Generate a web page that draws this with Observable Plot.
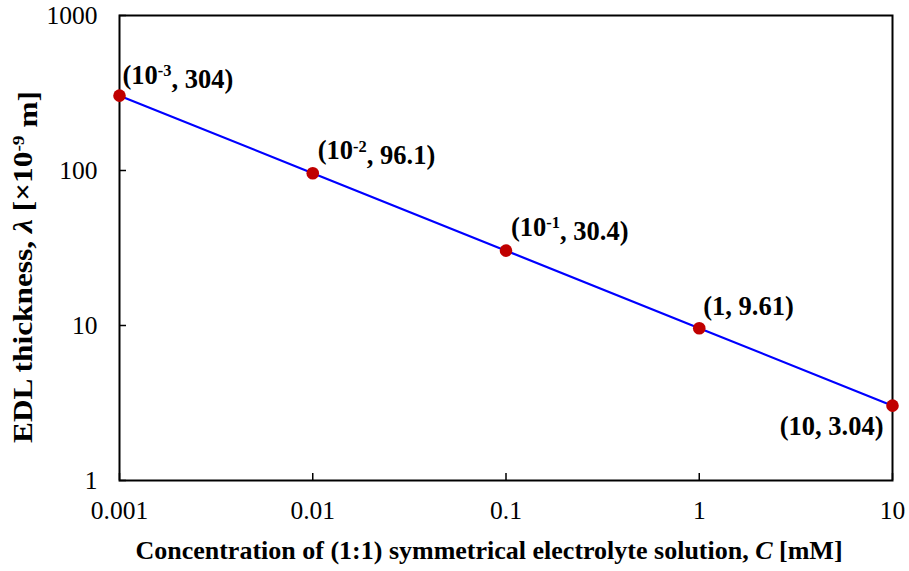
<!DOCTYPE html>
<html>
<head>
<meta charset="utf-8">
<script src="https://cdn.jsdelivr.net/npm/d3@7"></script>
<script src="https://cdn.jsdelivr.net/npm/@observablehq/plot@0.6"></script>
<style>
  html, body { margin: 0; padding: 0; background: #fff; }
  #chart svg { display: block; }
  #chart svg, #chart svg text { font-family: "Liberation Serif", "Times New Roman", Times, serif !important; }
</style>
</head>
<body>
<div id="chart"></div>
<script>
// Data
const concentration = [0.001, 0.01, 0.1, 1, 10];
const thickness = [304, 96.1, 30.4, 9.61, 3.04];
const pointLabels = ["(10^-3, 304)", "(10^-2, 96.1)", "(10^-1, 30.4)", "(1, 9.61)", "(10, 3.04)"];
const xTicks = [0.001, 0.01, 0.1, 1, 10];
const xTickLabels = ["0.001", "0.01", "0.1", "1", "10"];
const yTicks = [1, 10, 100, 1000];
const yTickLabels = ["1", "10", "100", "1000"];

const data = concentration.map((c, i) => ({c, t: thickness[i], label: pointLabels[i]}));

// label placement (style)
const labelDx = [3, 5, 5, 4, -9];
const labelDy = [-12, -14, -15, -13, 29];
const labelAnchor = ["start", "start", "start", "start", "end"];

const W = 909, H = 571;
const mL = 119, mR = 17, mT = 15, mB = 91;
const pw = W - mL - mR, ph = H - mT - mB;
const FONT = "'Liberation Serif', 'Times New Roman', Times, serif";

const labelMarks = data.map((d, i) => Plot.text([d], {
  x: "c", y: "t", text: "label",
  dx: labelDx[i], dy: labelDy[i],
  textAnchor: labelAnchor[i], lineAnchor: "bottom",
  fontWeight: "bold", fontSize: 26.5, fill: "#000"
}));

const chart = Plot.plot({
  width: W, height: H,
  marginLeft: mL, marginRight: mR, marginTop: mT, marginBottom: mB,
  style: {fontFamily: FONT, background: "#fff", color: "#000"},
  x: {type: "log", domain: [0.001, 10]},
  y: {type: "log", domain: [1, 1000]},
  marks: [
    Plot.axisX(xTicks, {tickSize: 0, tickPadding: 20, fontSize: 25.5, tickFormat: (d) => xTickLabels[xTicks.indexOf(d)], label: null}),
    Plot.axisY(yTicks, {tickSize: 0, tickPadding: 22, fontSize: 25.5, tickFormat: (d) => yTickLabels[yTicks.indexOf(d)], label: null}),
    Plot.tickX(xTicks, {x: d => d, insetTop: ph - 7, stroke: "#000", strokeWidth: 1.5}),
    Plot.tickY(yTicks, {y: d => d, insetRight: pw - 7, stroke: "#000", strokeWidth: 1.5}),
    Plot.frame({stroke: "#000", strokeWidth: 2}),
    Plot.line(data, {x: "c", y: "t", stroke: "#0000ff", strokeWidth: 2.2}),
    Plot.dot(data, {x: "c", y: "t", r: 6.3, fill: "#c00000", stroke: "none"}),
    ...labelMarks
  ]
});

document.getElementById("chart").appendChild(chart);

const svg = d3.select(chart);

// Superscripts in point labels
svg.selectAll("text").each(function() {
  const el = d3.select(this);
  const s = el.text();
  const m = s.match(/^\((\d+)\^(-?\d+)(,.*)$/);
  if (!m) return;
  el.text(null);
  el.append("tspan").text("(" + m[1]);
  el.append("tspan").attr("dy", "-0.45em").attr("font-size", "0.62em").text(m[2]);
  el.append("tspan").attr("dy", "0.45em").text(m[3]);
});

// X axis title
const xt = svg.append("text")
  .attr("x", 489).attr("y", 559)
  .attr("text-anchor", "middle")
  .style("font-family", FONT).attr("font-weight", "bold").attr("font-size", 26).attr("fill", "#000");
xt.append("tspan").text("Concentration of (1:1) symmetrical electrolyte solution, ");
xt.append("tspan").attr("font-style", "italic").text("C");
xt.append("tspan").text(" [mM]");

// Y axis title
const yt = svg.append("text")
  .attr("transform", `translate(32, 267) rotate(-90) scale(1.12, 1)`)
  .attr("text-anchor", "middle")
  .style("font-family", FONT).attr("font-weight", "bold").attr("font-size", 28).attr("fill", "#000");
yt.append("tspan").text("EDL thickness, ");
yt.append("tspan").attr("font-style", "italic").text("λ");
yt.append("tspan").text(" [×10");
yt.append("tspan").attr("dy", "-0.45em").attr("font-size", "0.62em").text("-9");
yt.append("tspan").attr("dy", "0.45em").text(" m]");
</script>
</body>
</html>
